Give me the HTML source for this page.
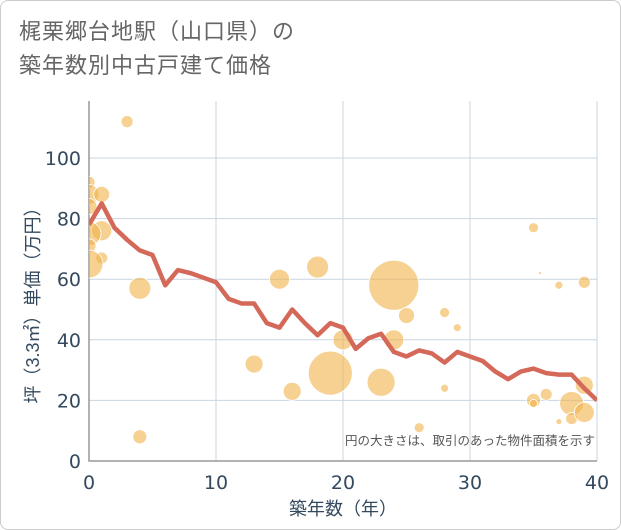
<!DOCTYPE html>
<html><head><meta charset="utf-8"><style>
body{margin:0;background:#fff}
#c{position:relative;width:619px;height:528px;border:1px solid #ccc;border-radius:8px;font-family:"Liberation Sans","Noto Sans CJK JP",sans-serif;overflow:hidden}
.t{position:absolute;left:18px;color:#666;font-size:22px;line-height:34px;letter-spacing:1px}
</style></head><body>
<div id="c">
<div class="t" style="top:14px">梶栗郷台地駅（山口県）の<br>築年数別中古戸建て価格</div>
<svg id="s" width="621" height="530" style="position:absolute;left:0;top:0"><defs><clipPath id="cp"><rect x="88" y="95" width="508" height="365"/></clipPath></defs></svg>
</div>
<script>
const lineX=[0,1,2,3,4,5,6,7,8,9,10,11,12,13,14,15,16,17,18,19,20,21,22,23,24,25,26,27,28,29,30,31,32,33,34,35,36,37,38,39,40];
const lineY=[78,85,77,73,69.5,68,58,63,62,60.5,59,53.5,52,52,45.5,44,50,45.5,41.5,45.5,44,37,40.5,42,36,34.5,36.5,35.5,32.5,36,34.5,33,29.5,27,29.5,30.5,29,28.5,28.5,24,20];
const bubX=[3,0,0,1,0,1,0,0,1,0,4,4,13,15,16,18,19,20,23,24,24,25,26,28,28,29,35,35.5,37,39,35,35,36,38,38,37,39,39];
const bubY=[112,92,88,88,84,76,75,71,67,65,57,8,32,60,23,64,29,40,26,58,40,48,11,49,24,44,77,62,58,59,20,19,22,19,14,13,25,16];
const bubR=[6,6,10,8,8,10,12,7,6,14,11,7,9,10,9,11,22,10,14,25,10,8,5,5,4,4,5,1.5,4,6,7,4,6,12,6,3,9,10];
const xTicks=[0,10,20,30,40];
const yTicks=[0,20,40,60,80,100];
const NS='http://www.w3.org/2000/svg';
const s=document.getElementById('s');
const L=88,R=596,T=100,B=460;
const xs=v=>L+v*(R-L)/40, ys=v=>B-v*3.03;
function el(tag,a,p){const e=document.createElementNS(NS,tag);for(const k in a)e.setAttribute(k,a[k]);(p||s).appendChild(e);return e;}
const TC='#34495e';
const g=el('g',{});


xTicks.forEach(v=>{const l=el('line',{x1:xs(v),x2:xs(v),y1:T,y2:B,stroke:'#c9d4e0','stroke-width':1},g);

const t=el('text',{x:xs(v),y:B+28,'text-anchor':'middle','font-size':19,fill:TC,'font-family':'DejaVu Sans, sans-serif'});t.textContent=v;
});
yTicks.forEach(v=>{const l=el('line',{x1:L,x2:R,y1:ys(v),y2:ys(v),stroke:'#c9d4e0','stroke-width':1},g);

const t=el('text',{x:L-8,y:ys(v)+7,'text-anchor':'end','font-size':19,fill:TC,'font-family':'DejaVu Sans, sans-serif'});t.textContent=v;
});
const ax=el('path',{d:`M${L} ${T}V${B}H${R}`,fill:'none',stroke:'#999','stroke-width':1.5});

const bg=el('g',{'clip-path':'url(#cp)'});

bubX.forEach((v,i)=>{const c=el('circle',{cx:xs(v),cy:ys(bubY[i]),r:bubR[i],fill:'#f0b34a','fill-opacity':0.6,stroke:'#fff','stroke-width':0.8},bg);
});
const p=el('polyline',{points:lineX.map((v,i)=>xs(v)+','+ys(lineY[i])).join(' '),fill:'none',stroke:'#d4695a','stroke-width':4.5,'stroke-linejoin':'round','clip-path':'url(#cp)'});

const n=el('text',{x:594,y:444,'text-anchor':'end','font-size':12.5,fill:'#555'});n.textContent='円の大きさは、取引のあった物件面積を示す';

const xt=el('text',{x:(L+R)/2,y:514,'text-anchor':'middle','font-size':18,fill:TC});xt.textContent='築年数（年）';

const yt=el('text',{x:0,y:0,'text-anchor':'middle','font-size':18,fill:TC,transform:`translate(38,${(T+B)/2+20}) rotate(-90)`});yt.textContent='坪（3.3㎡）単価（万円）';

</script>
</body></html>
